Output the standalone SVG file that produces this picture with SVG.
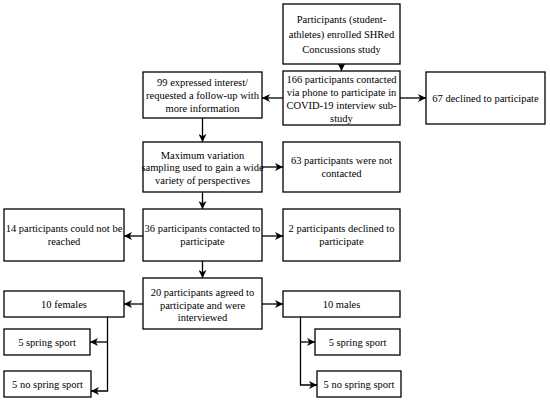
<svg xmlns="http://www.w3.org/2000/svg" width="550" height="403" viewBox="0 0 550 403">
<style>
.b{fill:#fff;stroke:#000;stroke-width:1.3}
.t{font-family:'Times New Roman',Times,'Liberation Serif','Noto Serif','DejaVu Serif',Tinos,serif;font-size:10.5px;fill:#000;text-anchor:middle}
.c{fill:none;stroke:#000;stroke-width:1.3}
</style>
<defs>
<marker id="a" markerUnits="userSpaceOnUse" markerWidth="9" markerHeight="8" refX="8" refY="4" orient="auto">
<path d="M0,0 L8,4 L0,8 L2.2,4 z" fill="#000"/>
</marker>
</defs>
<rect width="550" height="403" fill="#fff"/>
<g id="connectors">
<line class="c" x1="341.5" y1="64" x2="341.5" y2="71" marker-end="url(#a)"/>
<line class="c" x1="283" y1="98" x2="262" y2="98" marker-end="url(#a)"/>
<line class="c" x1="400" y1="98" x2="426" y2="98" marker-end="url(#a)"/>
<line class="c" x1="202.5" y1="118" x2="202.5" y2="142" marker-end="url(#a)"/>
<line class="c" x1="262" y1="167" x2="283" y2="167" marker-end="url(#a)"/>
<line class="c" x1="202.5" y1="192" x2="202.5" y2="209" marker-end="url(#a)"/>
<line class="c" x1="143" y1="236" x2="124" y2="236" marker-end="url(#a)"/>
<line class="c" x1="262" y1="236" x2="283" y2="236" marker-end="url(#a)"/>
<line class="c" x1="202.5" y1="261" x2="202.5" y2="278" marker-end="url(#a)"/>
<line class="c" x1="143" y1="304" x2="124" y2="304" marker-end="url(#a)"/>
<line class="c" x1="262" y1="304" x2="283" y2="304" marker-end="url(#a)"/>
<polyline class="c" points="107.5,317 107.5,391 91,391" marker-end="url(#a)"/>
<line class="c" x1="107.5" y1="342" x2="90" y2="342" marker-end="url(#a)"/>
<polyline class="c" points="300.5,317 300.5,385 317,385" marker-end="url(#a)"/>
<line class="c" x1="300.5" y1="342" x2="315" y2="342" marker-end="url(#a)"/>
</g>
<g id="n1"><rect class="b" x="283" y="4" width="117" height="60"/>
<text class="t" x="341.5" y="22.7">Participants (student-</text>
<text class="t" x="341.5" y="37.7">athletes) enrolled SHRed</text>
<text class="t" x="341.5" y="52.7">Concussions study</text></g>
<g id="n2"><rect class="b" x="283" y="71" width="117" height="54"/>
<text class="t" x="341.5" y="82.5">166 participants contacted</text>
<text class="t" x="341.5" y="95.5">via phone to participate in</text>
<text class="t" x="341.5" y="108.5">COVID-19 interview sub-</text>
<text class="t" x="341.5" y="121.5">study</text></g>
<g id="n3"><rect class="b" x="143" y="72" width="119" height="46"/>
<text class="t" x="202.5" y="85.7">99 expressed interest/</text>
<text class="t" x="202.5" y="98.7">requested a follow-up with</text>
<text class="t" x="202.5" y="111.7">more information</text></g>
<g id="n4"><rect class="b" x="426" y="72" width="119" height="52"/>
<text class="t" x="485.5" y="101.7">67 declined to participate</text></g>
<g id="n5"><rect class="b" x="143" y="142" width="119" height="50"/>
<text class="t" x="202.5" y="158.7">Maximum variation</text>
<text class="t" x="202.5" y="171.2">sampling used to gain a wide</text>
<text class="t" x="202.5" y="183.7">variety of perspectives</text></g>
<g id="n6"><rect class="b" x="283" y="142" width="117" height="50"/>
<text class="t" x="341.5" y="164.2">63 participants were not</text>
<text class="t" x="341.5" y="177.2">contacted</text></g>
<g id="n7"><rect class="b" x="4" y="209" width="120" height="52"/>
<text class="t" x="64" y="232.2">14 participants could not be</text>
<text class="t" x="64" y="245.2">reached</text></g>
<g id="n8"><rect class="b" x="143" y="209" width="119" height="52"/>
<text class="t" x="202.5" y="232.2">36 participants contacted to</text>
<text class="t" x="202.5" y="245.2">participate</text></g>
<g id="n9"><rect class="b" x="283" y="209" width="117" height="52"/>
<text class="t" x="341.5" y="232.2">2 participants declined to</text>
<text class="t" x="341.5" y="245.2">participate</text></g>
<g id="n10"><rect class="b" x="143" y="278" width="119" height="51"/>
<text class="t" x="202.5" y="296">20 participants agreed to</text>
<text class="t" x="202.5" y="308.5">participate and were</text>
<text class="t" x="202.5" y="321">interviewed</text></g>
<g id="n11"><rect class="b" x="4" y="291" width="120" height="26"/>
<text class="t" x="64" y="307.7">10 females</text></g>
<g id="n12"><rect class="b" x="283" y="291" width="117" height="26"/>
<text class="t" x="341.5" y="307.7">10 males</text></g>
<g id="n13"><rect class="b" x="4" y="329" width="86" height="26"/>
<text class="t" x="47" y="345.7">5 spring sport</text></g>
<g id="n14"><rect class="b" x="4" y="371" width="87" height="26"/>
<text class="t" x="47.5" y="387.7">5 no spring sport</text></g>
<g id="n15"><rect class="b" x="315" y="329" width="85" height="26"/>
<text class="t" x="357.5" y="345.7">5 spring sport</text></g>
<g id="n16"><rect class="b" x="317" y="371" width="84" height="26"/>
<text class="t" x="359" y="387.7">5 no spring sport</text></g>
</svg>
